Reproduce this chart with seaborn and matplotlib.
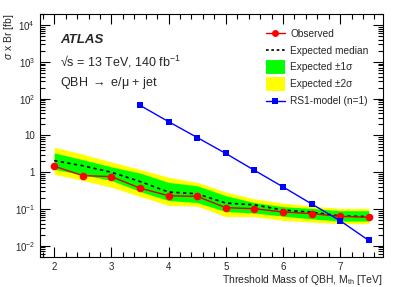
import numpy as np
import pandas as pd
import matplotlib
matplotlib.use("Agg")
import matplotlib.pyplot as plt
import seaborn as sns
from matplotlib.lines import Line2D
from matplotlib.ticker import FixedLocator, MultipleLocator

# limits
mass = [2.0, 2.5, 3.0, 3.5, 4.0, 4.5, 5.0, 5.5, 6.0, 6.5, 7.0, 7.5]
observed = [1.46, 0.81, 0.76, 0.37, 0.23, 0.22, 0.109, 0.102, 0.083, 0.075, 0.063, 0.060]
expected = [2.07, 1.5, 1.0, 0.56, 0.29, 0.26, 0.145, 0.13, 0.094, 0.082, 0.065, 0.062]
exp_1s_up = [3.35, 2.2, 1.4, 0.95, 0.53, 0.43, 0.23, 0.15, 0.116, 0.104, 0.09, 0.09]
exp_1s_dn = [1.2, 0.85, 0.6, 0.3, 0.17, 0.15, 0.085, 0.078, 0.064, 0.054, 0.047, 0.047]
exp_2s_up = [4.8, 3.1, 1.9, 1.2, 0.73, 0.53, 0.29, 0.19, 0.145, 0.12, 0.104, 0.104]
exp_2s_dn = [0.88, 0.6, 0.39, 0.22, 0.125, 0.12, 0.062, 0.062, 0.049, 0.044, 0.04, 0.04]

rs1_mass = [3.5, 4.0, 4.5, 5.0, 5.5, 6.0, 6.5, 7.0, 7.5]
rs1_xsec = [66, 23.7, 8.8, 3.24, 1.13, 0.4, 0.138, 0.048, 0.014]

ytick_vals = [1e-2, 1e-1, 1, 10, 1e2, 1e3, 1e4]
ytick_txt = [r"$10^{-2}$", r"$10^{-1}$", "1", "10", r"$10^{2}$", r"$10^{3}$", r"$10^{4}$"]

lim = pd.DataFrame({"mass": mass, "obs": observed, "exp": expected})
rs1 = pd.DataFrame({"mass": rs1_mass, "xsec": rs1_xsec})

sns.set_style("ticks")
plt.rcParams["font.family"] = ["Liberation Sans", "DejaVu Sans"]
plt.rcParams["mathtext.fontset"] = "custom"
plt.rcParams["mathtext.rm"] = "Liberation Sans"
plt.rcParams["mathtext.it"] = "Liberation Sans:italic"
plt.rcParams["mathtext.sf"] = "Liberation Sans"

fig = plt.figure(figsize=(3.99, 2.87), dpi=100)
ax = fig.add_axes([0.1, 0.105, 0.86, 0.846])

ax.fill_between(mass, exp_2s_dn, exp_2s_up, color="#ffff00", lw=0)
ax.fill_between(mass, exp_1s_dn, exp_1s_up, color="#00ff00", lw=0)
sns.lineplot(data=lim, x="mass", y="exp", ax=ax, color="black", lw=1.2,
             linestyle=(0, (2, 2)))
sns.lineplot(data=lim, x="mass", y="obs", ax=ax, color="#e00000", lw=1,
             marker="o", markersize=5.5, markeredgewidth=0, markerfacecolor="#ff0000")
sns.lineplot(data=rs1, x="mass", y="xsec", ax=ax, color="#0000ff", lw=1,
             marker="s", markersize=5, markeredgewidth=0)

ax.set_yscale("log")
ax.set_xlim(1.75, 7.75)
ax.set_ylim(0.005, 2e4)

ax.xaxis.set_major_locator(MultipleLocator(1))
ax.xaxis.set_minor_locator(MultipleLocator(0.2))
minor_y = [m * 10.0 ** e for e in range(-3, 5) for m in range(2, 10)]
ax.yaxis.set_major_locator(FixedLocator(ytick_vals))
ax.yaxis.set_minor_locator(FixedLocator(minor_y))
ax.set_yticklabels(ytick_txt)

ax.tick_params(which="both", direction="in", top=True, right=True, labelsize=7,
               width=0.8, color="black")
ax.tick_params(which="major", length=7)
ax.tick_params(which="minor", length=3.5)
for s in ax.spines.values():
    s.set_linewidth(0.8)
    s.set_color("black")

ax.set_xlabel(r"Threshold Mass of QBH, M$_{\rm th}$ [TeV]", fontsize=7.5, loc="right", labelpad=1)
ax.set_ylabel(r"$\sigma$ x Br [fb]", fontsize=7.5, ha="right")
ax.yaxis.set_label_coords(-0.07, 1.0)

ax.text(0.058, 0.88, "ATLAS", transform=ax.transAxes, fontsize=9.5,
        fontweight="bold", style="italic", va="baseline")
ax.text(0.058, 0.786, r"√s = 13 TeV, 140 fb$^{-1}$", transform=ax.transAxes,
        fontsize=9, va="baseline")
ax.text(0.058, 0.704, r"QBH$\ \rightarrow\ $e/μ + jet", transform=ax.transAxes,
        fontsize=9, va="baseline")

handles = [
    Line2D([], [], color="#e00000", marker="o", markersize=5, markeredgewidth=0,
           markerfacecolor="#ff0000", lw=1),
    Line2D([], [], color="black", linestyle=(0, (1.6, 1.6)), lw=1.2),
    Line2D([], [], color="#00ff00", lw=10, solid_capstyle="butt"),
    Line2D([], [], color="#ffff00", lw=10, solid_capstyle="butt"),
    Line2D([], [], color="#0000ff", marker="s", markersize=4.5, markeredgewidth=0, lw=1),
]
labels = ["Observed", "Expected median", "Expected ±1σ", "Expected ±2σ", "RS1-model (n=1)"]
ax.legend(handles, labels, loc="upper right", bbox_to_anchor=(0.975, 0.965), frameon=False,
          fontsize=7.3, handlelength=1.9, handletextpad=0.5, labelspacing=0.68,
          borderaxespad=0.2)

fig.savefig("out.png", dpi=100)
